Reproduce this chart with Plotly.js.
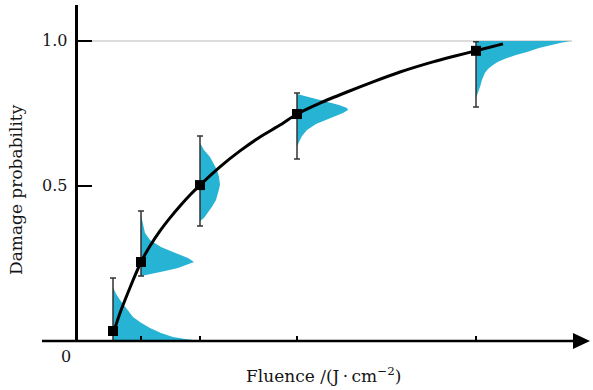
<!DOCTYPE html>
<html><head><meta charset="utf-8">
<script src="https://cdn.plot.ly/plotly-3.0.1.min.js"></script>
<style>html,body{margin:0;padding:0;background:#fff}#c{width:593px;height:390px}</style>
</head><body><div id="c"></div>
<script>
// Data points (fluence, damage probability)
const fluence = [0.925, 1.625, 3.1, 5.525, 10.0];
const probability = [0.0, 0.238, 0.503, 0.748, 0.966];
const errUpper = [0.183, 0.414, 0.672, 0.821, 0.997];
const errLower = [-0.034, 0.19, 0.362, 0.593, 0.772];

// Fitted curve
const curveX = [0.925, 1.1, 1.275, 1.45, 1.625, 1.85, 2.1, 2.35, 2.6, 2.85, 3.1, 3.6, 4.1, 4.6, 5.1, 5.525, 6.1, 6.775, 7.425, 8.1, 8.925, 9.475, 10.0, 10.675];
const curveY = [-0.01, 0.062, 0.124, 0.183, 0.238, 0.293, 0.345, 0.39, 0.431, 0.469, 0.503, 0.566, 0.621, 0.669, 0.71, 0.748, 0.786, 0.824, 0.859, 0.893, 0.928, 0.948, 0.966, 0.99];

// Distributions: probability levels and density widths (fluence units)
const dist1Levels = [0.152, 0.128, 0.107, 0.079, 0.048, 0.028, 0.010, -0.007, -0.021, -0.028, -0.034];
const dist1Widths = [0, 0.075, 0.175, 0.325, 0.5, 0.7, 0.925, 1.2, 1.5, 1.8, 2.175];
const dist2Levels = [0.4, 0.372, 0.338, 0.314, 0.29, 0.272, 0.262, 0.252, 0.238, 0.228, 0.217, 0.207, 0.2, 0.193, 0.19];
const dist2Widths = [0, 0.05, 0.1, 0.225, 0.5, 0.8, 1.0, 1.175, 1.325, 1.125, 0.925, 0.6, 0.4, 0.125, 0];
const dist3Levels = [0.648, 0.624, 0.6, 0.572, 0.555, 0.531, 0.503, 0.476, 0.452, 0.428, 0.407, 0.39, 0.379];
const dist3Widths = [0, 0.1, 0.25, 0.35, 0.425, 0.475, 0.5, 0.45, 0.4, 0.3, 0.2, 0.1, 0];
const dist4Levels = [0.817, 0.81, 0.803, 0.79, 0.779, 0.769, 0.762, 0.752, 0.741, 0.728, 0.714, 0.693, 0.672, 0.652, 0.634];
const dist4Widths = [0, 0.2, 0.4, 0.8, 1.05, 1.25, 1.275, 1.15, 0.95, 0.7, 0.475, 0.25, 0.125, 0.05, 0];
const dist5Levels = [1.0, 1.0, 0.993, 0.986, 0.976, 0.962, 0.952, 0.941, 0.928, 0.917, 0.903, 0.89, 0.866, 0.841, 0.821, 0.803];
const dist5Widths = [0, 2.35, 2.1, 1.85, 1.575, 1.275, 1.0, 0.775, 0.55, 0.425, 0.3, 0.225, 0.15, 0.1, 0.05, 0];

const yTickVals = [0.5, 1.0];
const yTickText = ['0.5', '1.0'];

const FONT = 'DejaVu Serif, Liberation Serif, serif';
const CYAN = '#27b3d3';
const TXT = '#151515';

const dists = [[dist1Levels, dist1Widths], [dist2Levels, dist2Widths], [dist3Levels, dist3Widths], [dist4Levels, dist4Widths], [dist5Levels, dist5Widths]];
const traces = [];
dists.forEach(([lv, wd], i) => {
  const x0 = fluence[i];
  const xs = [x0].concat(wd.map(w => x0 + w)).concat([x0]);
  const ys = [lv[0]].concat(lv).concat([lv[lv.length - 1]]);
  traces.push({type: 'scatter', mode: 'lines', x: xs, y: ys, fill: 'toself', fillcolor: CYAN,
    line: {width: 0, color: CYAN}, hoverinfo: 'skip', showlegend: false});
});
traces.push({type: 'scatter', mode: 'lines', x: curveX, y: curveY,
  line: {color: '#000', width: 3, shape: 'spline', smoothing: 0.6}, showlegend: false});
traces.push({type: 'scatter', mode: 'markers', x: fluence, y: probability,
  marker: {symbol: 'square', size: 10, color: '#000'},
  error_y: {type: 'data', symmetric: false,
    array: errUpper.map((u, i) => u - probability[i]),
    arrayminus: errLower.map((l, i) => probability[i] - l),
    color: '#333', thickness: 1.5, width: 3},
  showlegend: false, cliponaxis: false});

// helpers for paper coords from pixel (plot area 42..590 x 5..341)
const px = p => (p - 42) / 548;
const py = p => (341 - p) / 336;

const layout = {
  width: 593, height: 390,
  margin: {l: 42, r: 3, t: 5, b: 49},
  paper_bgcolor: '#fff', plot_bgcolor: '#fff',
  showlegend: false,
  xaxis: {range: [-0.85, 12.85], showgrid: false, zeroline: false, showline: false,
    ticks: 'inside', ticklen: 5, tickwidth: 1.5, tickcolor: '#000',
    tickvals: fluence.slice(1), showticklabels: false, fixedrange: true},
  yaxis: {range: [-0.0345, 1.124], showgrid: false, zeroline: false,
    anchor: 'free', position: px(76), showline: true, linewidth: 2.5, linecolor: '#000',
    ticks: 'inside', ticklen: 14, tickwidth: 2, tickcolor: '#000',
    tickvals: yTickVals, showticklabels: false, fixedrange: true},
  shapes: [
    {type: 'line', xref: 'x', yref: 'y', x0: 0.35, x1: 12.4, y0: 1.0, y1: 1.0,
      line: {color: '#cfcfcf', width: 1.5}, layer: 'below'},
    {type: 'line', xref: 'paper', yref: 'paper', x0: 0, x1: px(575), y0: 0, y1: 0,
      line: {color: '#000', width: 2.5}},
    {type: 'path', xref: 'paper', yref: 'paper',
      path: `M ${px(573)} ${py(333)} L ${px(590)} ${py(341)} L ${px(573)} ${py(349)} Z`,
      fillcolor: '#000', line: {width: 0}}
  ],
  annotations: [
    ...yTickVals.map((v, i) => ({xref: 'paper', yref: 'y', x: px(69), y: v, xanchor: 'right', yanchor: 'middle',
      text: yTickText[i], showarrow: false, font: {family: FONT, size: 16, color: TXT}})),
    {xref: 'paper', yref: 'paper', x: px(66), y: py(356), xanchor: 'center', yanchor: 'middle',
      text: '0', showarrow: false, font: {family: FONT, size: 16, color: TXT}},
    {xref: 'paper', yref: 'paper', x: px(16), y: py(190), xanchor: 'center', yanchor: 'middle', textangle: -90,
      text: 'Damage probability', showarrow: false, font: {family: FONT, size: 17, color: TXT}},
    {xref: 'paper', yref: 'paper', x: px(323), y: py(375), xanchor: 'center', yanchor: 'middle',
      text: 'Fluence /(J\u2009·\u2009cm<sup>−2</sup>)', showarrow: false, font: {family: FONT, size: 17, color: TXT}}
  ]
};
Plotly.newPlot('c', traces, layout, {staticPlot: true, displayModeBar: false});
</script></body></html>
